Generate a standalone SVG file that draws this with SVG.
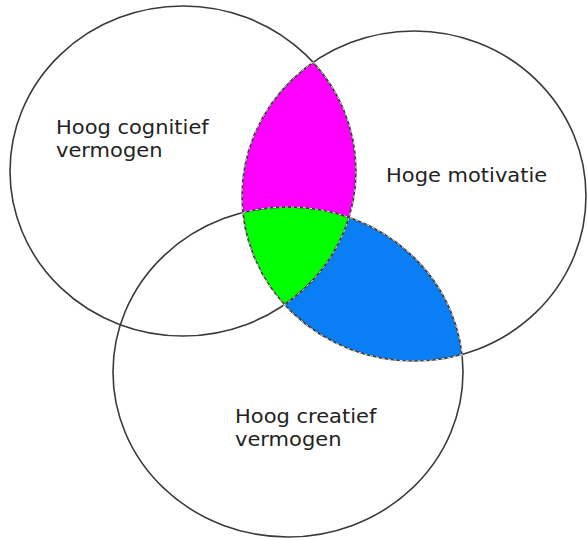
<svg xmlns="http://www.w3.org/2000/svg" width="587" height="540" viewBox="0 0 587 540">
  <style>
    .ring { fill: none; stroke: #3a3a3a; stroke-width: 1.6; }
    .dash { fill: none; stroke: #ffffff; stroke-width: 0.9; stroke-dasharray: 3 3; }
    .lbl { font-family: "DejaVu Sans", Verdana, sans-serif; font-size: 20px; fill: #222222; }
  </style>
  <defs>
    <clipPath id="clipA"><ellipse cx="183" cy="171" rx="173" ry="165"/></clipPath>
    <clipPath id="clipB"><ellipse cx="414" cy="196" rx="172" ry="165"/></clipPath>
    <clipPath id="clipBwide"><ellipse cx="414" cy="196" rx="174" ry="167"/></clipPath>
    <clipPath id="clipACwide">
      <ellipse cx="183" cy="171" rx="175" ry="167"/>
      <ellipse cx="288" cy="372" rx="175" ry="167"/>
    </clipPath>
  </defs>
  <rect width="587" height="540" fill="#ffffff"/>

  <g id="regions">
    <g clip-path="url(#clipB)">
      <ellipse id="blue" cx="288" cy="372" rx="175" ry="165" fill="#0a7ef5"/>
    </g>
    <g clip-path="url(#clipA)">
      <ellipse id="magenta" cx="414" cy="196" rx="172" ry="165" fill="#ff00ff"/>
    </g>
    <g clip-path="url(#clipA)">
      <g clip-path="url(#clipB)">
        <ellipse id="green" cx="288" cy="372" rx="175" ry="165" fill="#00ff00"/>
      </g>
    </g>
  </g>

  <g id="connectors"></g>

  <g id="circleA">
    <ellipse class="ring" cx="183" cy="171" rx="173" ry="165"/>
    <text class="lbl" transform="translate(56,134) scale(1.05,1)">Hoog cognitief</text>
    <text class="lbl" transform="translate(56,157) scale(1.05,1)">vermogen</text>
  </g>
  <g id="circleB">
    <ellipse class="ring" cx="414" cy="196" rx="172" ry="165"/>
    <text class="lbl" transform="translate(386,182) scale(1.05,1)">Hoge motivatie</text>
  </g>
  <g id="circleC">
    <ellipse class="ring" cx="288" cy="372" rx="175" ry="165"/>
    <text class="lbl" transform="translate(235,423) scale(1.05,1)">Hoog creatief</text>
    <text class="lbl" transform="translate(235,446) scale(1.05,1)">vermogen</text>
  </g>

  <g id="region-outlines">
    <g clip-path="url(#clipBwide)">
      <ellipse class="dash" cx="183" cy="171" rx="173" ry="165"/>
      <ellipse class="dash" cx="288" cy="372" rx="175" ry="165"/>
    </g>
    <g clip-path="url(#clipACwide)">
      <ellipse class="dash" cx="414" cy="196" rx="172" ry="165"/>
    </g>
  </g>
</svg>
